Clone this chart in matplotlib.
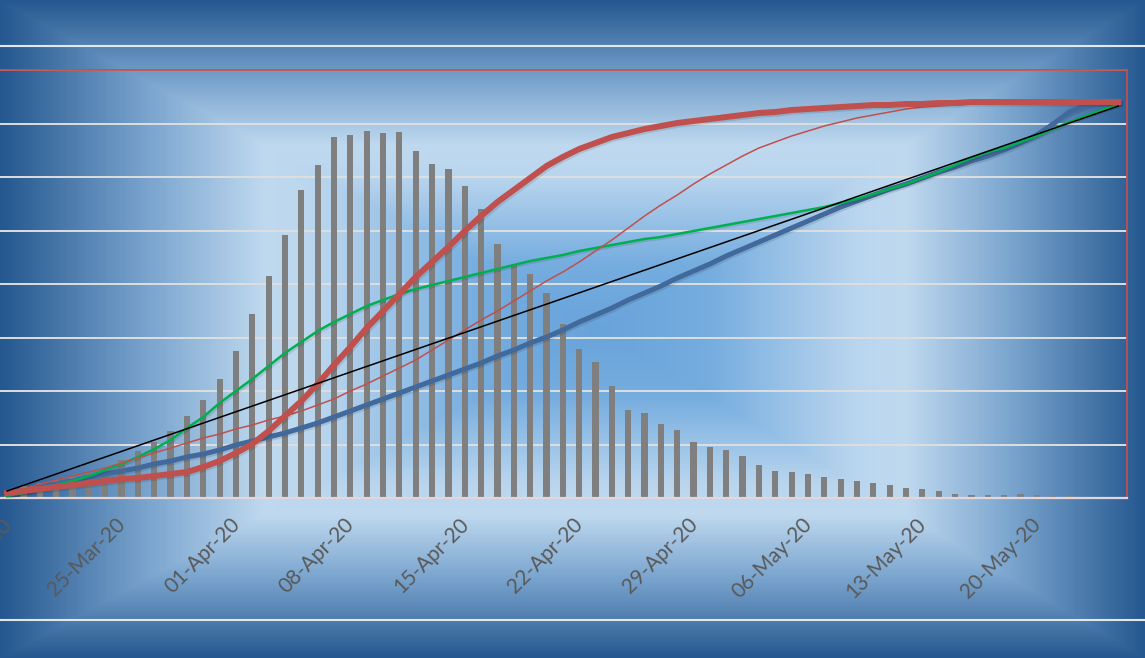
import numpy as np
import pandas as pd
import matplotlib
matplotlib.use('Agg')
import matplotlib.pyplot as plt
import matplotlib.patheffects as pe
from matplotlib.colors import LinearSegmentedColormap
from matplotlib.lines import Line2D
from matplotlib.transforms import ScaledTranslation

plt.rcParams['font.family'] = ['Lato', 'DejaVu Sans']

dates = pd.date_range(start='2020-03-18', periods=69, freq='D')

# daily bars (arbitrary units)
daily = [2, 12, 15, 18, 22, 25, 31, 38, 47, 56, 67, 82, 98, 119, 147, 184, 222, 263,
         308, 333, 361, 363, 367, 365, 366, 347, 334, 329, 312, 289, 254, 234, 224,
         205, 174, 149, 136, 112, 88, 85, 74, 68, 56, 51, 48, 42, 33, 27, 26, 24, 21,
         19, 17, 15, 13, 10, 9, 7, 4, 3, 3, 3, 4, 3, 2, 2, 1, 1, 1]

# cumulative curves
red_thick = [5, 7, 9, 11, 13, 15, 17, 19, 20, 22, 24, 26, 31, 37, 45, 54, 67, 82, 97,
             114, 133, 151, 170, 187, 204, 221, 236, 251, 267, 282, 296, 308, 320, 332,
             341, 349, 355, 361, 365, 369, 372, 375, 377, 379, 381, 383, 385, 386, 388,
             389, 390, 391, 392, 393, 393, 394, 394, 395, 395, 396, 396, 396, 396, 396,
             396, 396, 396, 396, 396]
red_thin = [5, 9, 14, 18, 22, 26, 30, 35, 40, 45, 50, 55, 60, 64, 69, 73, 78, 82, 87,
            93, 99, 107, 114, 122, 130, 138, 148, 158, 168, 178, 187, 197, 207, 217,
            226, 236, 247, 258, 270, 282, 293, 303, 314, 324, 333, 342, 350, 356, 362,
            367, 372, 376, 380, 383, 386, 389, 391, 392, 393, 394, 395, 396, 396, 396,
            396, 396, 396, 396, 396]
green = [2, 5, 9, 13, 17, 22, 28, 34, 41, 49, 58, 70, 81, 95, 107, 119, 132, 145, 156,
         167, 176, 184, 192, 198, 204, 209, 213, 217, 221, 225, 229, 233, 237, 240, 243,
         247, 250, 253, 256, 259, 261, 264, 267, 270, 273, 276, 279, 282, 285, 288, 291,
         295, 299, 304, 309, 314, 320, 326, 333, 340, 346, 350, 356, 362, 369, 376, 382,
         388, 393]
blue = [4, 7, 11, 14, 17, 21, 24, 27, 30, 34, 37, 41, 44, 48, 53, 57, 61, 65, 70, 75,
        81, 87, 93, 99, 105, 111, 117, 123, 129, 135, 142, 148, 155, 161, 168, 176, 183,
        190, 198, 205, 212, 220, 227, 234, 242, 249, 256, 263, 270, 277, 284, 291, 297,
        303, 309, 314, 320, 326, 331, 337, 342, 348, 355, 363, 374, 386, 393, 396, 396]
trend = [7, 392]   # straight line, first day to last day

W, H = 1145, 658
fig = plt.figure(figsize=(W / 100, H / 100), dpi=100)

# rectangular "from centre" gradient backdrop
bg = fig.add_axes([0, 0, 1, 1])
bg.axis('off')
yy, xx = np.mgrid[0:H, 0:W]
cx, cy = 600, 330
dx = np.where(xx < cx, (cx - xx) / cx, (xx - cx) / (W - cx))
dy = np.where(yy < cy, (cy - yy) / cy, (yy - cy) / (H - cy))
t = np.maximum(dx, dy)
cmap = LinearSegmentedColormap.from_list('bg', [(0, '#68a3da'), (0.2, '#76addf'),
                                                (0.47, '#bad6ee'), (0.56, '#bfd9ef'),
                                                (0.75, '#7ca6cf'), (1, '#255890')])
bg.imshow(cmap(t), aspect='auto', interpolation='bilinear')

for yf in (1 - 46 / H, 1 - 620 / H):
    fig.add_artist(Line2D([0, 1], [yf, yf], transform=fig.transFigure,
                          color='#e3e8ef', lw=1.5))

ax = fig.add_axes([0, 160 / H, 1127 / W, 428 / H])
ax.patch.set_alpha(0)
ax.set_ylim(0, 428)
ax.set_yticks(np.linspace(0, 428, 9))
ax.yaxis.grid(True, color='#dedede', lw=1.4)
ax.set_axisbelow(True)
ax.tick_params(axis='y', left=False, labelleft=False)

ax.bar(dates, daily, width=0.38, color='#7f7f7f', zorder=2)

shadow = [pe.SimpleLineShadow(offset=(1.2, -1.2), shadow_color='k', alpha=0.1), pe.Normal()]
ax.plot(dates, blue, color='#41699c', lw=3.6, zorder=3, path_effects=shadow)
ax.plot(dates, green, color='#00b050', lw=1.8, zorder=4, path_effects=shadow)
ax.plot(dates, red_thin, color='#c0504d', lw=1.1, zorder=4)
ax.plot(dates, red_thick, color='#c0504d', lw=4.3, zorder=5, path_effects=shadow)
ax.plot([dates[0], dates[-1]], trend, color='black', lw=1.1, zorder=6)

ax.set_xlim(dates[0] - pd.Timedelta(hours=10.5), dates[-1] + pd.Timedelta(hours=12.5))
ticks = dates[::7]
ax.set_xticks(ticks)
ax.set_xticklabels([d.strftime('%d-%b-%y') for d in ticks], rotation=45,
                   ha='right', va='top')
ax.tick_params(axis='x', length=0, pad=12, labelsize=15, labelcolor='#595959')
shift = ScaledTranslation(8 / 100, 0, fig.dpi_scale_trans)
for lbl in ax.get_xticklabels():
    lbl.set_transform(lbl.get_transform() + shift)

for s in ['top', 'right']:
    ax.spines[s].set_color('#c0504d')
    ax.spines[s].set_linewidth(1.3)
ax.spines['left'].set_visible(False)
ax.spines['bottom'].set_color('#e2d6da')
ax.spines['bottom'].set_linewidth(1.6)

fig.savefig('out.png', dpi=100)
